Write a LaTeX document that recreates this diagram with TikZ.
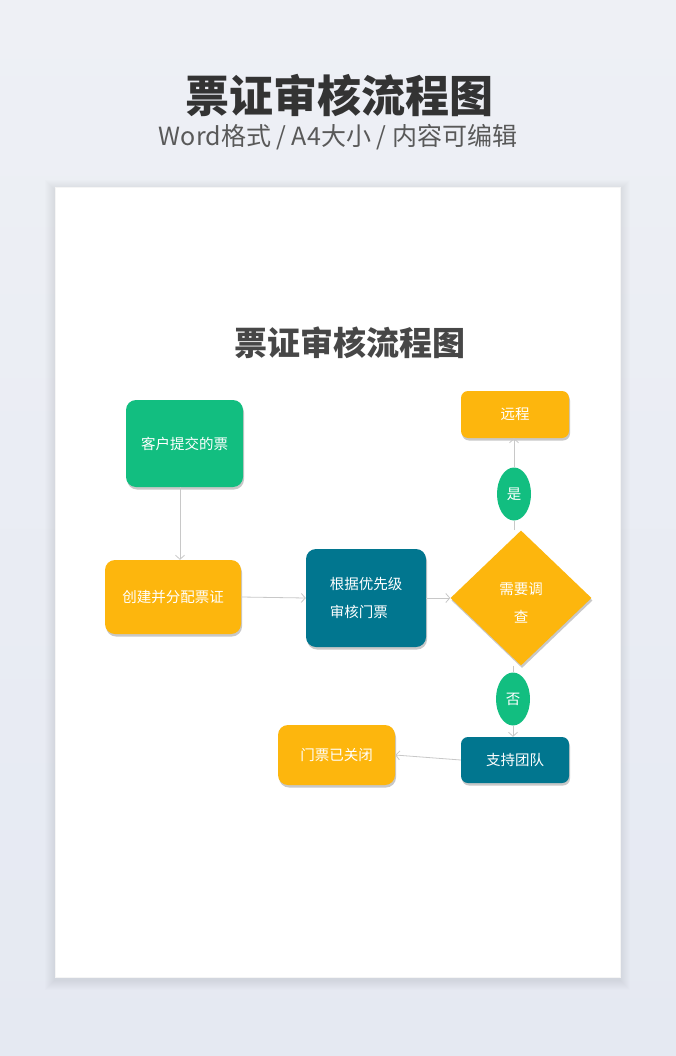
\documentclass[tikz,border=0pt]{standalone}
\usepackage{fontspec}
\setmainfont{Noto Sans CJK SC}
\usetikzlibrary{shapes.geometric,shadows,arrows.meta}
\definecolor{bgtop}{RGB}{238,240,245}
\definecolor{bgbottom}{RGB}{229,233,242}
\definecolor{tgreen}{RGB}{18,190,128}
\definecolor{torange}{RGB}{253,182,13}
\definecolor{tteal}{RGB}{1,118,143}
\definecolor{linegray}{RGB}{200,200,200}
\definecolor{titlegray}{RGB}{51,51,51}

\begin{document}
\begin{tikzpicture}[x=1pt,y=-1pt,
  box/.style={rounded corners=10pt, text=white, inner sep=0pt,
    font=\fontsize{14.5}{28}\selectfont,
    drop shadow={shadow xshift=1pt, shadow yshift=-2.5pt, opacity=.3, fill=black!70}},
  oval/.style={ellipse, fill=tgreen, text=white, inner sep=0pt,
    minimum width=34pt, minimum height=53pt, font=\fontsize{14.5}{17}\selectfont},
  plain/.style={draw=linegray, line width=.8pt},
  link/.style={plain, -{Straight Barb[length=4pt,width=9pt]}}]
    \useasboundingbox (0,0) rectangle (676,1056);
    \shade[top color=bgtop, bottom color=bgbottom] (0,0) rectangle (676,1056);
    \foreach \i in {1,...,10}
      \fill[black, opacity=.006] (55-\i,187-\i+3) rectangle (620+\i,977+\i+3);
    \fill[white] (55,187) rectangle (620,977);
    \draw[black!4, line width=.5pt] (55,187) rectangle (620,977);

    \node[text=titlegray, font=\fontsize{44}{44}\selectfont\bfseries] (title) at (339,95) {票证审核流程图};
    \node[text=black!65, font=\fontsize{25}{25}\selectfont] (subtitle) at (338,137) {Word格式 / A4大小 / 内容可编辑};
    \node[text=black!72, font=\fontsize{33}{33}\selectfont\bfseries] (heading) at (350,343) {票证审核流程图};

    \node[box, fill=tgreen, minimum width=117pt, minimum height=87pt] (kehu) at (184.5,443.5) {客户提交的票};
    \node[box, fill=torange, minimum width=136pt, minimum height=74pt] (chuangjian) at (173,597) {创建并分配票证};
    \node[box, fill=tteal, minimum width=120pt, minimum height=98pt, align=left] (genju) at (366,598) {根据优先级\\审核门票};
    \node[diamond, fill=torange, inner sep=0pt, minimum width=141pt, minimum height=135pt,
      drop shadow={shadow xshift=1pt, shadow yshift=-2.5pt, opacity=.3, fill=black!70}] (xuyao) at (521,598) {};
    \node[text=white, align=center, font=\fontsize{14.5}{28}\selectfont] (xuyaotext) at (521,603) {需要调\\查};
    \node[box, rounded corners=7pt, fill=torange, minimum width=108pt, minimum height=47pt] (yuancheng) at (515,414.5) {远程};
    \node[oval] (shi) at (514,494) {是};
    \node[oval] (fou) at (513,699) {否};
    \node[box, rounded corners=7pt, fill=tteal, minimum width=108pt, minimum height=46pt] (zhichi) at (515,760) {支持团队};
    \node[box, fill=torange, minimum width=117pt, minimum height=60pt] (guanbi) at (336.5,755) {门票已关闭};

    \draw[link] ([xshift=-4.5pt]kehu.south) -- ([xshift=-4.5pt]kehu.south |- chuangjian.north);
    \draw[link] (chuangjian.east) -- (genju.west);
    \draw[link] (genju.east) -- (xuyao.west);
    \draw[plain] (shi.south) -- (shi.south |- xuyao.north);
    \draw[link] (shi.north) -- (shi.north |- yuancheng.south);
    \draw[plain] (fou.north |- xuyao.south) -- (fou.north);
    \draw[link] (fou.south) -- (fou.south |- zhichi.north);
    \draw[link] (zhichi.west) -- (guanbi.east);
\end{tikzpicture}
\end{document}
